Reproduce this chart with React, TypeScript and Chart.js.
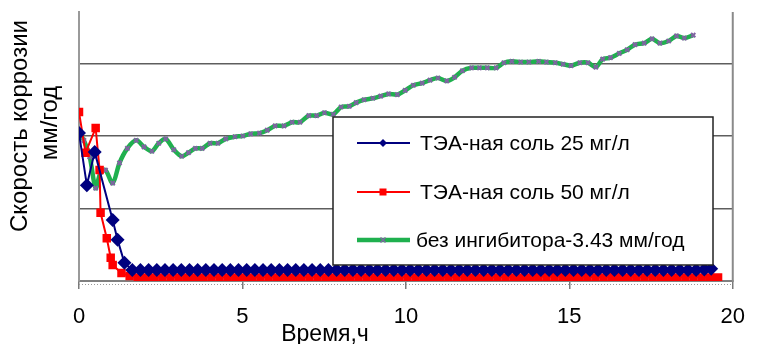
import React, { useEffect, useRef } from "react";
import { Chart, registerables } from "chart.js";

Chart.register(...registerables);

// ---- data (time, h ; corrosion rate, mm/year) ----
const xTickValues = [0, 5, 10, 15, 20];
const yGridValues = [0, 1, 2, 3];

const seriesNames = [
  "ТЭА-ная соль 25 мг/л",
  "ТЭА-ная соль 50 мг/л",
  "без ингибитора-3.43 мм/год",
];

const blueTime = [
  0, 0.24, 0.48, 1.03, 1.18, 1.39, 1.63,
  1.88, 2.13, 2.38, 2.63, 2.88, 3.13, 3.38, 3.63, 3.88, 4.13,
  4.38, 4.63, 4.88, 5.13, 5.38, 5.63, 5.88, 6.13, 6.38, 6.63,
  6.88, 7.13, 7.38, 7.63, 7.88, 8.13, 8.38, 8.63, 8.88, 9.13,
  9.38, 9.63, 9.88, 10.13, 10.38, 10.63, 10.88, 11.13, 11.38, 11.63,
  11.88, 12.13, 12.38, 12.63, 12.88, 13.13, 13.38, 13.63, 13.88, 14.13,
  14.38, 14.63, 14.88, 15.13, 15.38, 15.63, 15.88, 16.13, 16.38, 16.63,
  16.88, 17.13, 17.38, 17.63, 17.88, 18.13, 18.38, 18.63, 18.88, 19.13,
  19.34,
];
const blueRate = [
  2.04, 1.32, 1.78, 0.84, 0.57, 0.25, 0.15,
  0.15, 0.15, 0.15, 0.15, 0.15, 0.15, 0.15, 0.15, 0.15, 0.15,
  0.15, 0.15, 0.15, 0.15, 0.15, 0.15, 0.15, 0.15, 0.15, 0.15,
  0.15, 0.15, 0.15, 0.15, 0.15, 0.15, 0.15, 0.15, 0.15, 0.15,
  0.15, 0.15, 0.15, 0.15, 0.15, 0.15, 0.15, 0.15, 0.15, 0.15,
  0.15, 0.15, 0.15, 0.15, 0.15, 0.15, 0.15, 0.15, 0.15, 0.15,
  0.15, 0.15, 0.15, 0.15, 0.15, 0.15, 0.15, 0.15, 0.15, 0.15,
  0.15, 0.15, 0.15, 0.15, 0.15, 0.15, 0.15, 0.15, 0.15, 0.16,
  0.17,
];

const redTime = [
  0, 0.2, 0.51, 0.63, 0.66, 0.85, 0.97, 1.03, 1.3, 1.55,
  1.8, 2.05, 2.3, 2.55, 2.8, 3.05, 3.3, 3.55, 3.8, 4.05,
  4.3, 4.55, 4.8, 5.05, 5.3, 5.55, 5.8, 6.05, 6.3, 6.55,
  6.8, 7.05, 7.3, 7.55, 7.8, 8.05, 8.3, 8.55, 8.8, 9.05,
  9.3, 9.55, 9.8, 10.05, 10.3, 10.55, 10.8, 11.05, 11.3, 11.55,
  11.8, 12.05, 12.3, 12.55, 12.8, 13.05, 13.3, 13.55, 13.8, 14.05,
  14.3, 14.55, 14.8, 15.05, 15.3, 15.55, 15.8, 16.05, 16.3, 16.55,
  16.8, 17.05, 17.3, 17.55, 17.8, 18.05, 18.3, 18.55, 18.8, 19.05,
  19.3, 19.55,
];
const redRate = [
  2.33, 1.77, 2.11, 1.53, 0.94, 0.59, 0.32, 0.22, 0.11, 0.07,
  0.05, 0.05, 0.05, 0.05, 0.05, 0.05, 0.05, 0.05, 0.05, 0.05,
  0.05, 0.05, 0.05, 0.05, 0.05, 0.05, 0.05, 0.05, 0.05, 0.05,
  0.05, 0.05, 0.05, 0.05, 0.05, 0.05, 0.05, 0.05, 0.05, 0.05,
  0.05, 0.05, 0.05, 0.05, 0.05, 0.05, 0.05, 0.05, 0.05, 0.05,
  0.05, 0.05, 0.05, 0.05, 0.05, 0.05, 0.05, 0.05, 0.05, 0.06,
  0.06, 0.06, 0.06, 0.06, 0.06, 0.06, 0.05, 0.05, 0.06, 0.06,
  0.05, 0.05, 0.05, 0.05, 0.05, 0.05, 0.05, 0.05, 0.05, 0.05,
  0.05, 0.05,
];

const greenTime = [
  0, 0.15, 0.33, 0.51, 0.66, 0.81, 1.03, 1.24, 1.48, 1.75,
  1.99, 2.23, 2.44, 2.65, 2.9, 3.14, 3.35, 3.56, 3.77, 4.01,
  4.25, 4.49, 4.77, 5.01, 5.25, 5.52, 5.76, 6.0, 6.27, 6.52,
  6.76, 7.03, 7.27, 7.51, 7.78, 8.02, 8.27, 8.48, 8.72, 8.99,
  9.23, 9.47, 9.74, 9.98, 10.23, 10.5, 10.74, 10.98, 11.25, 11.49,
  11.73, 12.01, 12.25, 12.49, 12.76, 13.0, 13.24, 13.51, 13.76, 14.06,
  14.3, 14.57, 14.81, 15.05, 15.32, 15.57, 15.81, 16.02, 16.26, 16.53,
  16.77, 17.01, 17.29, 17.53, 17.77, 18.04, 18.28, 18.52, 18.79,
];
const greenRate = [
  2.04, 1.94, 1.71, 1.28, 1.5, 1.53, 1.35, 1.63, 1.83, 1.94,
  1.85, 1.79, 1.9, 1.96, 1.81, 1.72, 1.77, 1.83, 1.83, 1.9,
  1.9, 1.96, 1.99, 2.0, 2.03, 2.04, 2.08, 2.14, 2.14, 2.19,
  2.19, 2.28, 2.28, 2.32, 2.3, 2.4, 2.41, 2.46, 2.5, 2.52,
  2.55, 2.58, 2.57, 2.63, 2.7, 2.73, 2.77, 2.8, 2.76, 2.81,
  2.9, 2.94, 2.94, 2.94, 2.94, 3.01, 3.03, 3.02, 3.02, 3.03,
  3.02, 3.01, 2.99, 2.97, 3.01, 3.01, 2.95, 3.06, 3.08, 3.14,
  3.19, 3.26, 3.28, 3.34, 3.28, 3.31, 3.38, 3.35, 3.39,
];

const yTitleLines = ["Скорость коррозии", "мм/год"];
const xTitle = "Время,ч";

const FONT = "'Liberation Sans', Arial, sans-serif";
const NAVY = "#00007f";
const RED = "#ff0000";
const GREEN = "#1fb04e";
const PURPLE = "#8064a2";

const pairs = (xs: number[], ys: number[]) =>
  xs.slice(0, Math.min(xs.length, ys.length)).map((x, i) => ({ x, y: ys[i] }));

const decorPlugin = {
  id: "decor",
  afterDatasetsDraw(chart: any) {
    const { ctx, chartArea: a } = chart;
    ctx.save();
    // right border
    ctx.strokeStyle = "#8a8a8a";
    ctx.lineWidth = 2;
    ctx.beginPath();
    ctx.moveTo(a.right, a.top);
    ctx.lineTo(a.right, a.bottom + 1);
    ctx.stroke();
    // dotted minor ticks under x axis
    ctx.strokeStyle = "#9a9a9a";
    ctx.lineWidth = 1;
    ctx.setLineDash([1, 2]);
    ctx.beginPath();
    ctx.moveTo(a.left, a.bottom + 3.5);
    ctx.lineTo(a.right, a.bottom + 3.5);
    ctx.stroke();
    ctx.setLineDash([]);

    // legend
    const bx = 333, by = 117, bw = 380, bh = 148;
    ctx.fillStyle = "#ffffff";
    ctx.fillRect(bx, by, bw, bh);
    ctx.strokeStyle = "#222";
    ctx.lineWidth = 1.5;
    ctx.strokeRect(bx, by, bw, bh);
    const rows = [143, 192, 240];
    const colors = [NAVY, RED, GREEN];
    const widths = [2, 2, 4.5];
    const textX = [420, 420, 416];
    rows.forEach((ry, i) => {
      ctx.strokeStyle = colors[i];
      ctx.lineWidth = widths[i];
      ctx.beginPath();
      ctx.moveTo(357, ry);
      ctx.lineTo(410, ry);
      ctx.stroke();
      const cx = 383;
      if (i === 0) {
        ctx.fillStyle = NAVY;
        ctx.beginPath();
        ctx.moveTo(cx, ry - 4);
        ctx.lineTo(cx + 4, ry);
        ctx.lineTo(cx, ry + 4);
        ctx.lineTo(cx - 4, ry);
        ctx.closePath();
        ctx.fill();
      } else if (i === 1) {
        ctx.fillStyle = RED;
        ctx.fillRect(cx - 3.5, ry - 3.5, 7, 7);
      } else {
        ctx.strokeStyle = PURPLE;
        ctx.lineWidth = 1.5;
        ctx.beginPath();
        ctx.moveTo(cx - 2.5, ry - 2.5);
        ctx.lineTo(cx + 2.5, ry + 2.5);
        ctx.moveTo(cx + 2.5, ry - 2.5);
        ctx.lineTo(cx - 2.5, ry + 2.5);
        ctx.stroke();
      }
      ctx.fillStyle = "#000";
      ctx.font = `21px ${FONT}`;
      ctx.textAlign = "left";
      ctx.textBaseline = "middle";
      ctx.fillText(seriesNames[i], textX[i], ry + 1);
    });

    // axis titles
    ctx.fillStyle = "#000";
    ctx.font = `23px ${FONT}`;
    ctx.textAlign = "center";
    ctx.textBaseline = "middle";
    ctx.fillText(xTitle, 325, 335);
    ctx.font = `24px ${FONT}`;
    ctx.save();
    ctx.translate(20, 126);
    ctx.rotate(-Math.PI / 2);
    ctx.fillText(yTitleLines[0], 0, 0);
    ctx.restore();
    ctx.save();
    ctx.translate(50, 123);
    ctx.rotate(-Math.PI / 2);
    ctx.fillText(yTitleLines[1], 0, 0);
    ctx.restore();
    ctx.restore();
  },
};

export default function App() {
  const ref = useRef<HTMLCanvasElement | null>(null);
  useEffect(() => {
    document.body.style.margin = "0";
    if (!ref.current) return;
    const chart = new Chart(ref.current, {
      type: "scatter",
      data: {
        datasets: [
          {
            label: seriesNames[0],
            data: pairs(blueTime, blueRate),
            showLine: true,
            borderColor: NAVY,
            backgroundColor: NAVY,
            borderWidth: 2,
            pointStyle: "rectRot",
            pointRadius: 7,
            pointBorderWidth: 0,
            tension: 0,
          },
          {
            label: seriesNames[1],
            data: pairs(redTime, redRate),
            showLine: true,
            borderColor: RED,
            backgroundColor: RED,
            borderWidth: 2,
            pointStyle: "rect",
            pointRadius: 6,
            pointBorderWidth: 0,
            tension: 0,
          },
          {
            label: seriesNames[2],
            data: pairs(greenTime, greenRate),
            showLine: true,
            borderColor: GREEN,
            backgroundColor: PURPLE,
            borderWidth: 4.5,
            pointStyle: "crossRot",
            pointRadius: 3,
            pointBorderColor: PURPLE,
            pointBorderWidth: 2,
            tension: 0.3,
          },
        ],
      },
      options: {
        animation: false,
        responsive: false,
        maintainAspectRatio: false,
        layout: { padding: { top: 12, right: 18, left: 0, bottom: 0 } },
        plugins: { legend: { display: false }, tooltip: { enabled: false } },
        scales: {
          x: {
            type: "linear",
            min: 0,
            max: 20,
            afterBuildTicks: (axis: any) => {
              axis.ticks = xTickValues.map((v) => ({ value: v }));
            },
            afterFit: (axis: any) => {
              axis.height = 63;
            },
            ticks: {
              color: "#000",
              font: { family: FONT, size: 22 },
              padding: 15,
              maxRotation: 0,
            },
            grid: {
              drawOnChartArea: false,
              drawTicks: true,
              tickLength: 8,
              color: "#7a7a7a",
              lineWidth: 1.5,
            },
            border: { display: true, color: "#808080", width: 2 },
          },
          y: {
            type: "linear",
            min: 0,
            max: 3.71,
            afterBuildTicks: (axis: any) => {
              axis.ticks = yGridValues.map((v) => ({ value: v }));
            },
            afterFit: (axis: any) => {
              axis.width = 79;
            },
            ticks: { display: false },
            grid: { color: "#5e5e5e", lineWidth: 1.5, drawTicks: false },
            border: { display: true, color: "#9a9a9a", width: 2 },
          },
        },
      },
      plugins: [decorPlugin],
    });
    return () => chart.destroy();
  }, []);
  return (
    <div style={{ position: "absolute", left: 0, top: 0, width: 760, height: 344 }}>
      <canvas ref={ref} width={760} height={344} style={{ width: 760, height: 344 }} />
    </div>
  );
}
